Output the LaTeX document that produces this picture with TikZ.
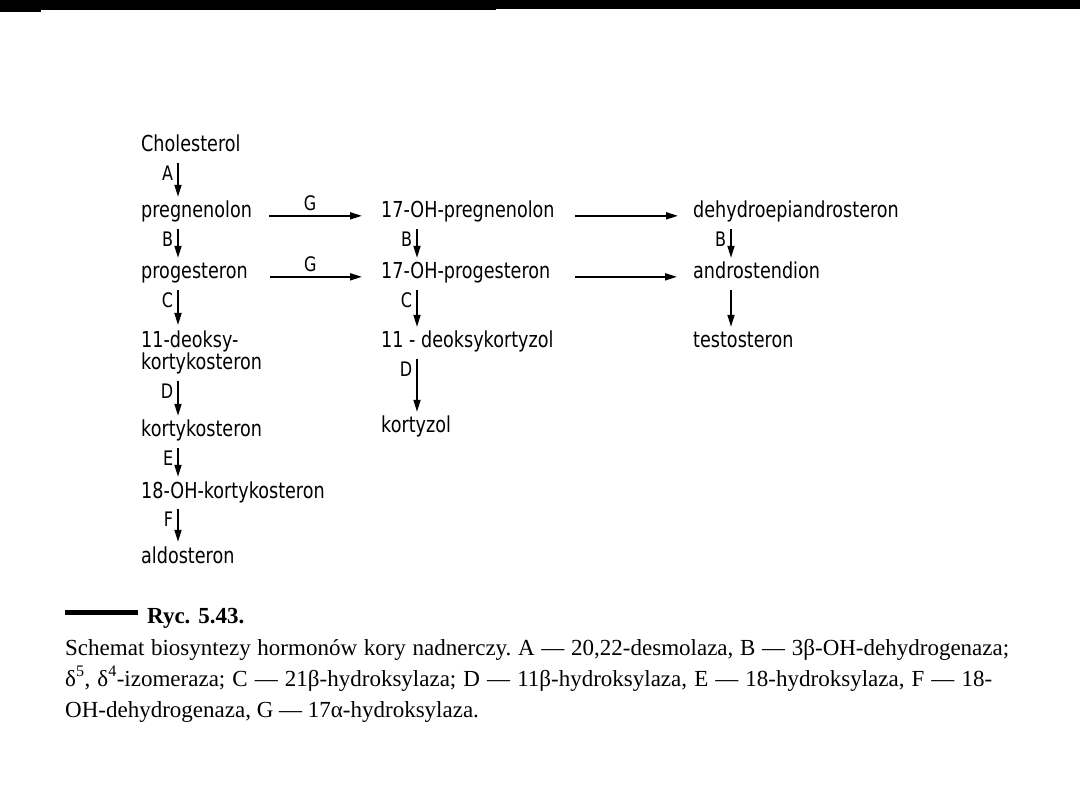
\documentclass[tikz,border=0pt]{standalone}
\usepackage{fontspec}
\usepackage{tikz}
\usetikzlibrary{arrows.meta}
\newfontfamily\dinfont[FakeStretch=0.8]{DejaVu Sans}
\newfontfamily\capfont{Liberation Serif}
\frenchspacing

\begin{document}
\begin{tikzpicture}[
  x=1pt, y=-1pt,
  txt/.style={inner xsep=0pt, inner ysep=6pt, font=\fontsize{22}{22}\dinfont},
  cmp/.style={txt, anchor=base west, text height=15pt, text depth=5pt},
  lab/.style={pos=0, anchor=north east, inner xsep=4pt, inner ysep=0pt, yshift=-2pt, font=\fontsize{20}{20}\dinfont},
  glab/.style={above, inner sep=4pt, font=\fontsize{20}{20}\dinfont},
  arr/.style={-{Triangle[length=12pt,width=7pt]}, line width=1.7pt},
  capline/.style={anchor=base west, inner sep=0pt, font=\fontsize{23}{28}\capfont},
]
\fill[white] (0,0) rectangle (1080,810);
\useasboundingbox (0,0) rectangle (1080,810);

% Top edge of the slide
\fill (0,0) rectangle (1080,9);
\fill (0,9) rectangle (41,12);
\fill (41,9) rectangle (496,10);

% Left column: pregnenolon -> aldosteron
\node[cmp] (chol) at (141,152) {Cholesterol};
\node[cmp] (preg) at (141,218) {pregnenolon};
\node[cmp] (prog) at (141,279) {progesteron};
\node[txt, align=left, anchor=north west] (dkort) at (141,325) {11-deoksy-\\kortykosteron};
\node[cmp] (kort) at (141,437) {kortykosteron};
\node[cmp] (ohkort) at (141,498) {18-OH-kortykosteron};
\node[cmp] (aldo) at (141,563) {aldosteron};

% Middle column: 17-OH path to kortyzol
\node[cmp] (ohpreg) at (381,218) {17-OH-pregnenolon};
\node[cmp] (ohprog) at (381,279) {17-OH-progesteron};
\node[cmp] (dkortz) at (381,348) {11 - deoksykortyzol};
\node[cmp] (kortz) at (381,433) {kortyzol};

% Right column: androgens
\node[cmp] (dhea) at (693,218) {dehydroepiandrosteron};
\node[cmp] (andr) at (693,279) {androstendion};
\node[cmp] (testo) at (693,348) {testosteron};

% Vertical steps, enzyme letter on the left of each arrow
\draw[arr] ([xshift=37pt]chol.south west) -- node[lab]{A} ([xshift=37pt]preg.north west);
\draw[arr] ([xshift=37pt]preg.south west) -- node[lab]{B} ([xshift=37pt]prog.north west);
\draw[arr] ([xshift=37pt]prog.south west) -- node[lab]{C} ([xshift=37pt]dkort.north west);
\draw[arr] ([xshift=37pt]dkort.south west) -- node[lab]{D} ([xshift=37pt]kort.north west);
\draw[arr] ([xshift=37pt]kort.south west) -- node[lab]{E} ([xshift=37pt]ohkort.north west);
\draw[arr] ([xshift=37pt]ohkort.south west) -- node[lab]{F} ([xshift=37pt]aldo.north west);

\draw[arr] ([xshift=36pt]ohpreg.south west) -- node[lab]{B} ([xshift=36pt]ohprog.north west);
\draw[arr] ([xshift=36pt]ohprog.south west) -- node[lab]{C} ([xshift=36pt]dkortz.north west);
\draw[arr] ([xshift=36pt]dkortz.south west) -- node[lab]{D} ([xshift=36pt]kortz.north west);

\draw[arr] ([xshift=38pt]dhea.south west) -- node[lab]{B} ([xshift=38pt]andr.north west);
\draw[arr] ([xshift=38pt]andr.south west) -- ([xshift=38pt]testo.north west);

% Horizontal steps
\draw[arr, shorten <=17pt, shorten >=19pt] (preg.mid east) -- node[glab, pos=.45]{G} (ohpreg.mid west);
\draw[arr, shorten <=22pt, shorten >=19pt] (prog.mid east) -- node[glab, pos=.47]{G} (ohprog.mid west);
\draw[arr, shorten <=20pt, shorten >=15pt] (ohpreg.mid east) -- (dhea.mid west);
\draw[arr, shorten <=24pt, shorten >=16pt] (ohprog.mid east) -- (andr.mid west);

% Caption
\fill (65,610) rectangle (138,615);
\node[capline, font=\fontsize{23}{28}\capfont\bfseries] (ryc) at (147,623) {Ryc.\hspace{0.35em}5.43.};
\node[capline] (cap1) at (65,655) {\makebox[944pt][s]{Schemat biosyntezy hormonów kory nadnerczy. A — 20,22-desmolaza, B — 3β-OH-dehydrogenaza;}};
\node[capline] (cap2) at (65,686) {\makebox[927pt][s]{δ\textsuperscript{5}, δ\textsuperscript{4}-izomeraza; C — 21β-hydroksylaza; D — 11β-hydroksylaza, E — 18-hydroksylaza, F — 18-}};
\node[capline] (cap3) at (65,717) {OH-dehydrogenaza, G — 17α-hydroksylaza.};
\end{tikzpicture}
\end{document}
